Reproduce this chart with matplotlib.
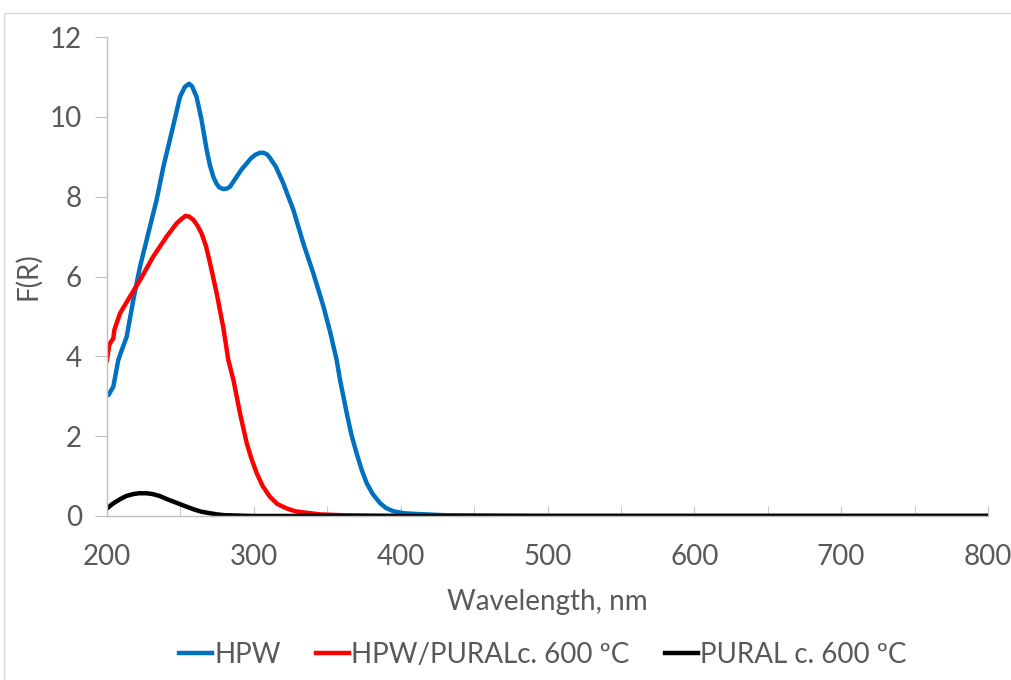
import matplotlib.pyplot as plt
from matplotlib.patches import Rectangle

# HPW
hpw_wl = [200, 201, 204.3, 207.7, 210, 213.4, 217.9, 222.5, 228.1, 233.8, 238.4, 245, 249.7,
          253, 255.9, 258, 261, 264.4, 267.9, 270, 272.4, 274.5, 276.5, 279.3, 281.5, 283.8,
          288.3, 292, 295.1, 298, 301, 304.2, 306.5, 309, 311, 315, 320, 326.9, 333.7,
          340.5, 347.4, 351.9, 356.4, 358.7, 363.3, 366.5, 370, 373.5, 376.9, 381, 386, 390,
          395, 402, 411, 430, 460, 500, 600, 700, 800]
hpw_f = [3.05, 3.03, 3.24, 3.91, 4.15, 4.49, 5.41, 6.25, 7.08, 7.92, 8.75, 9.76, 10.5,
         10.75, 10.83, 10.76, 10.5, 9.92, 9.17, 8.8, 8.5, 8.33, 8.23, 8.19, 8.2, 8.25,
         8.5, 8.7, 8.83, 8.96, 9.05, 9.1, 9.1, 9.06, 8.97, 8.75, 8.34, 7.67, 6.83,
         6.08, 5.25, 4.62, 3.91, 3.41, 2.57, 2.03, 1.57, 1.15, 0.82, 0.55, 0.32, 0.2,
         0.12, 0.07, 0.05, 0.02, 0.01, 0.0, 0.0, 0.0, 0.0]

# HPW/PURAL c. 600 ºC
red_wl = [200, 201.6, 204.3, 205, 208.9, 215.7, 222.5, 231.5, 240.6, 247.4, 251, 253.5, 256,
          258.8, 261.5, 264.4, 267.5, 270.2, 274.7, 279.3, 282.6, 286.1, 290.6, 295.2, 298.5,
          302, 306, 311, 316, 322.3, 328, 336, 345, 360, 400, 500, 600, 700, 800]
red_f = [3.91, 4.3, 4.45, 4.66, 5.08, 5.5, 5.91, 6.5, 7.0, 7.33, 7.45, 7.52, 7.5,
         7.42, 7.28, 7.08, 6.75, 6.33, 5.58, 4.7, 3.91, 3.41, 2.57, 1.82, 1.42,
         1.07, 0.75, 0.48, 0.3, 0.19, 0.12, 0.08, 0.04, 0.02, 0.0, 0.0, 0.0, 0.0, 0.0]

# PURAL c. 600 ºC
blk_wl = [200, 204, 208.9, 213, 218, 222, 227, 231, 236, 241, 247.4, 253, 258.8, 264, 270,
          275, 280, 290, 300, 400, 500, 600, 700, 800]
blk_f = [0.19, 0.31, 0.42, 0.5, 0.55, 0.57, 0.57, 0.55, 0.5, 0.42, 0.33, 0.25, 0.17, 0.11, 0.07,
         0.04, 0.02, 0.01, 0.0, 0.0, 0.0, 0.0, 0.0, 0.0]

plt.rcParams['font.family'] = ['Lato', 'DejaVu Sans']
txt = '#595959'
grey = '#BFBFBF'
fs = 20

fig = plt.figure(figsize=(10.11, 6.8), dpi=100)
fig.patches.append(Rectangle((4 / 1011, -0.01), 1.02, 1 - 13 / 680 + 0.01,
                             transform=fig.transFigure, fill=False,
                             edgecolor='#D9D9D9', linewidth=1))
ax = fig.add_axes([107 / 1011, 1 - 516 / 680, 881 / 1011, 479 / 680])

ax.plot(hpw_wl, hpw_f, color='#0070C0', lw=3.2, label='HPW')
ax.plot(red_wl, red_f, color='#FF0000', lw=3.2, label='HPW/PURALc. 600 ºC')
ax.plot(blk_wl, blk_f, color='#000000', lw=3.2, label='PURAL c. 600 ºC')

ax.set_xlim(200, 800)
ax.set_ylim(0, 12)
ax.set_xticks(range(200, 801, 100))
ax.set_xticks(range(250, 801, 100), minor=True)
ax.set_yticks(range(0, 13, 2))

for s in ['top', 'right']:
    ax.spines[s].set_visible(False)
for s in ['left', 'bottom']:
    ax.spines[s].set_color(grey)
    ax.spines[s].set_linewidth(1)

ax.tick_params(axis='y', direction='out', length=9, color=grey, labelsize=fs,
               labelcolor=txt, pad=9)
ax.tick_params(axis='x', which='both', direction='in', length=7, color=grey,
               labelsize=fs, labelcolor=txt, pad=20)

ax.set_xlabel('Wavelength, nm', fontsize=fs, color=txt, labelpad=14)
ax.set_ylabel('F(R)', fontsize=fs, color=txt, labelpad=6)

leg = fig.legend(loc='center', bbox_to_anchor=(0.537, 1 - 655 / 680), ncol=3,
                 frameon=False, fontsize=fs, handlelength=1.2, handletextpad=0.08,
                 columnspacing=1.25)
for t in leg.get_texts():
    t.set_color(txt)

fig.savefig('out.png', dpi=100)
